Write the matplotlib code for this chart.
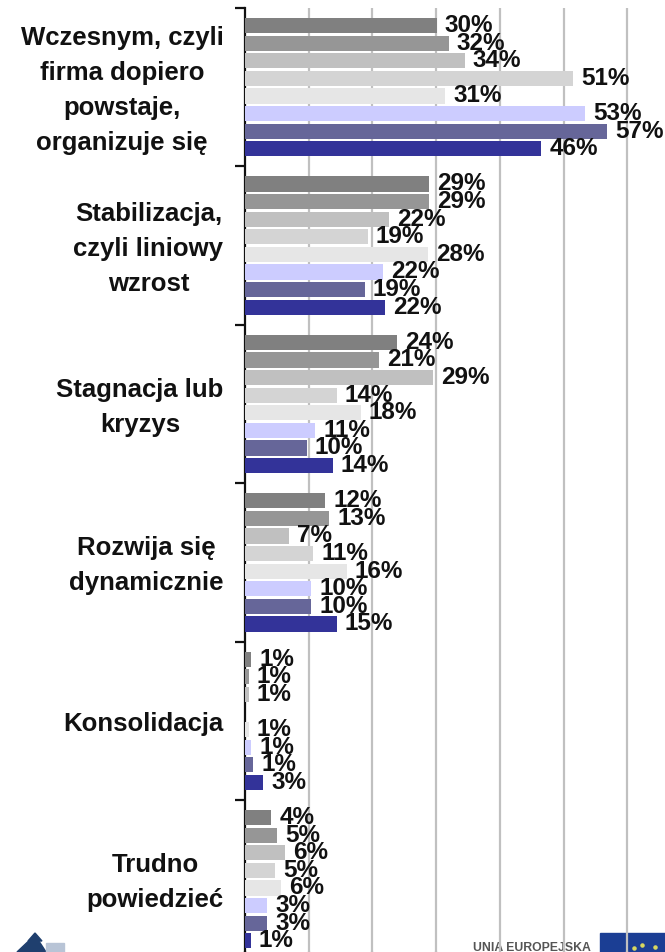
import matplotlib
matplotlib.use('Agg')
import matplotlib.pyplot as plt
from matplotlib.patches import Polygon, Rectangle

plt.rcParams['font.family'] = ['Liberation Sans', 'DejaVu Sans']
plt.rcParams['font.weight'] = 'bold'

# Categories, top to bottom
categories = [
    'Wczesnym, czyli\nfirma dopiero\npowstaje,\norganizuje się',
    'Stabilizacja,\nczyli liniowy\nwzrost',
    'Stagnacja lub\nkryzys',
    'Rozwija się\ndynamicznie',
    'Konsolidacja',
    'Trudno\npowiedzieć',
]

# Bar lengths, one list per series (None = no bar)
s1 = [30.1, 28.9, 23.9, 12.6, 0.94, 4.1]
s2 = [32.0, 28.9, 21.0, 13.2, 0.6, 5.0]
s3 = [34.5, 22.6, 29.5, 6.9, 0.6, 6.3]
s4 = [51.5, 19.3, 14.4, 10.7, None, 4.7]
s5 = [31.4, 28.7, 18.2, 16.0, 0.6, 5.7]
s6 = [53.4, 21.7, 11.0, 10.4, 0.94, 3.5]
s7 = [56.9, 18.8, 9.7, 10.4, 1.25, 3.5]
s8 = [46.5, 22.0, 13.8, 14.4, 2.83, 0.9]
series = [s1, s2, s3, s4, s5, s6, s7, s8]

# Printed labels
labels = [
    [30, 29, 24, 12, 1, 4],
    [32, 29, 21, 13, 1, 5],
    [34, 22, 29, 7, 1, 6],
    [51, 19, 14, 11, None, 5],
    [31, 28, 18, 16, 1, 6],
    [53, 22, 11, 10, 1, 3],
    [57, 19, 10, 10, 1, 3],
    [46, 22, 14, 15, 3, 1],
]
colors = ['#808080', '#969696', '#C0C0C0', '#D4D4D4',
          '#E6E6E6', '#CCCCFF', '#666699', '#333399']

W, H = 665, 952
GROUP_PX = 158.4
fig = plt.figure(figsize=(W / 100, H / 100), dpi=100)

# Logos go underneath, they get cut off at the bottom edge
bg = fig.add_axes([0, 0, 1, 1], zorder=0)
bg.set_xlim(0, W)
bg.set_ylim(H, 0)
bg.axis('off')
bg.add_patch(Polygon([[17, 952], [35, 935], [46, 952]], color='#1F3F6E'))
bg.add_patch(Polygon([[35, 933], [28, 941], [42, 941]], color='#1F3F6E'))
bg.add_patch(Rectangle((46, 943), 18, 9, color='#B8C4D6'))
bg.add_patch(Rectangle((600, 933), 65, 19, color='#1B3E94'))
bg.scatter([634, 642, 655], [948, 945, 947], s=5, color='#D8D860')
bg.text(473, 948, 'UNIA EUROPEJSKA', fontsize=8.8, fontweight='bold', color='#555555',
        ha='left', va='center')

# axis starts at x=245px, 6.37 px per 1%; one group = 9 slots
ax = fig.add_axes([245 / W, 0, 420 / W, 944 / H], zorder=1)
ax.patch.set_alpha(0)
ax.set_xlim(0, 420 / 6.37)
ax.set_ylim(944 / GROUP_PX, 0)

slot = 1 / 9
for k, (vals, labs, col) in enumerate(zip(series, labels, colors)):
    for g, (v, lab) in enumerate(zip(vals, labs)):
        if v is None:
            continue
        y = g + (k + 1) * slot
        ax.barh(y, v, height=0.096, color=col, zorder=3)
        ax.annotate(f'{lab}%', (v, y), xytext=(5.8, 0), textcoords='offset points',
                    va='center', ha='left', fontsize=17.5, fontweight='bold',
                    color='#111111', zorder=4, annotation_clip=False)

ax.set_xticks([10, 20, 30, 40, 50, 60])
ax.xaxis.grid(True, color='#C0C0C0', linewidth=1.6, zorder=1)
ax.tick_params(axis='x', length=0, labelbottom=False)
ax.set_yticks(range(6))
ax.tick_params(axis='y', direction='out', length=7, width=1.6, color='#111111', labelleft=False)
for side in ['top', 'right', 'bottom']:
    ax.spines[side].set_visible(False)
ax.spines['left'].set_linewidth(1.6)
ax.spines['left'].set_color('#111111')

# Category names end just left of the axis, lines centred within the block
for g, name in enumerate(categories):
    ax.annotate(name, (0, g + 0.5), xytext=(-15.5, -2.5), textcoords='offset points',
                ha='right', va='center', multialignment='center', fontsize=18.5,
                fontweight='bold', color='#111111', linespacing=1.58, annotation_clip=False)

# axis and grid run on to the image bottom
ax.plot([0, 0], [944 / GROUP_PX, 952 / GROUP_PX], color='#111111', lw=1.6, clip_on=False)
for x in ax.get_xticks():
    ax.plot([x, x], [944 / GROUP_PX, 952 / GROUP_PX], color='#C0C0C0', lw=1.6, clip_on=False, zorder=1)

fig.savefig('out.png', dpi=100)
